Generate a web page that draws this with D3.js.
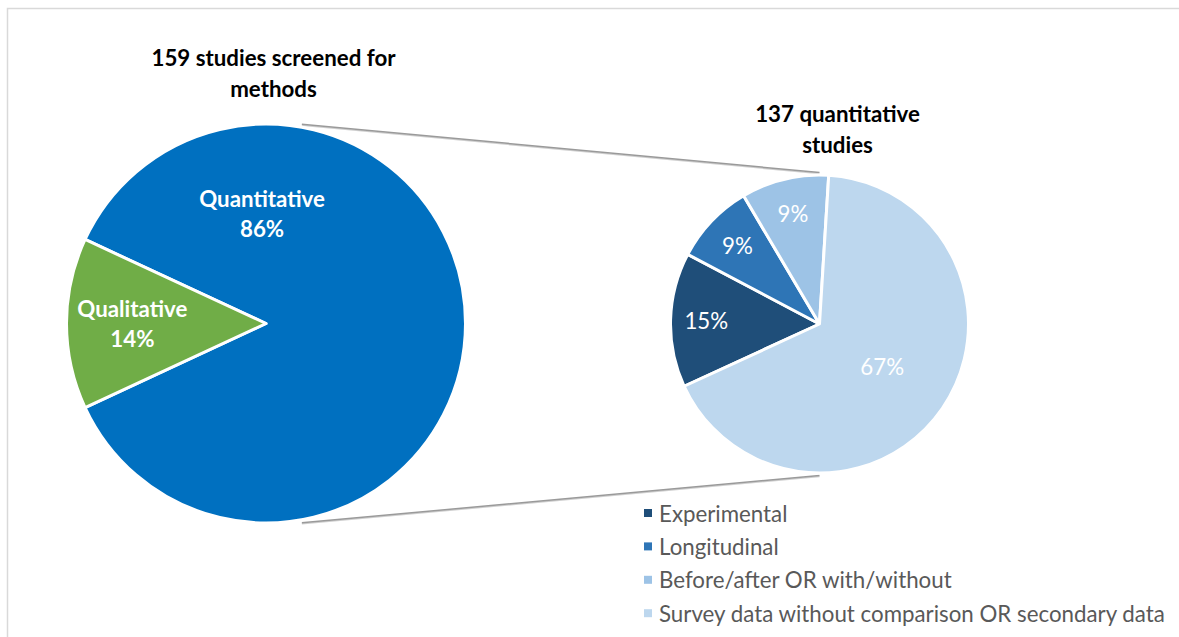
<!DOCTYPE html>
<html>
<head>
<meta charset="utf-8">
<script src="https://cdn.jsdelivr.net/npm/d3@7"></script>
<style>
  html, body { margin: 0; padding: 0; background: #fff; }
  svg { display: block; font-family: Lato, "Open Sans", sans-serif; }
</style>
</head>
<body>
<svg id="chart" width="1179" height="637"></svg>
<script>
// Study counts behind the two pies
const mainCategories = ["Quantitative", "Qualitative"];
const mainCounts = [137, 22];
const mainColors = ["#0070C0", "#70AD47"];

const subCategories = ["Experimental", "Longitudinal", "Before/after OR with/without", "Survey data without comparison OR secondary data"];
const subCounts = [20, 12, 13, 92];
const subColors = ["#1F4E79", "#2E75B6", "#9DC3E6", "#BDD7EE"];

const mainTitle = ["159 studies screened for", "methods"];
const subTitle = ["137 quantitative", "studies"];

const svg = d3.select("#chart");
const W = 1179, H = 637;
const FS = 22.3;

// light frame around the plot area
svg.append("rect")
  .attr("x", 7.5).attr("y", 8.5)
  .attr("width", W + 20).attr("height", H + 20)
  .attr("fill", "none").attr("stroke", "#D9D9D9").attr("stroke-width", 1.5);

const big = { cx: 266, cy: 323.5, r: 199.5 };
const small = { cx: 819.5, cy: 324, r: 149 };
const deg = Math.PI / 180;
const pct = (v, tot) => Math.round(v / tot * 100) + "%";

// connector lines between the two pies
const connectAngle = 10.2 * deg;
[-1, 1].forEach(s => {
  const a = s < 0 ? connectAngle : Math.PI - connectAngle;
  const x1 = big.cx + (big.r + 3) * Math.sin(a);
  const y1 = big.cy - (big.r + 3) * Math.cos(a);
  const x2 = small.cx;
  const y2 = small.cy + s * (small.r + 2.5);
  svg.append("line")
    .attr("x1", x1).attr("y1", y1 + 1).attr("x2", x2).attr("y2", y2 + 1)
    .attr("stroke", "#d0d0d0").attr("stroke-width", 1.5);
  svg.append("line")
    .attr("x1", x1).attr("y1", y1).attr("x2", x2).attr("y2", y2)
    .attr("stroke", "#9a9a9a").attr("stroke-width", 1.5);
});

// ---- main pie ----
const mainTotal = d3.sum(mainCounts);
const qualFrac = mainCounts[1] / mainTotal;
const mainPie = d3.pie().sort(null)
  .startAngle(1.5 * Math.PI + qualFrac * Math.PI)
  .endAngle(3.5 * Math.PI + qualFrac * Math.PI);
const mainArcs = mainPie(mainCounts);
const bigArc = d3.arc().innerRadius(0).outerRadius(big.r);

const gBig = svg.append("g").attr("transform", `translate(${big.cx},${big.cy})`);
gBig.selectAll("path").data(mainArcs).join("path")
  .attr("d", bigArc)
  .attr("fill", (d, i) => mainColors[i])
  .attr("stroke", "#fff").attr("stroke-width", 3).attr("stroke-linejoin", "round");

// two-line labels: name over percentage
gBig.selectAll("text.lbl").data(mainArcs).join("text")
  .attr("class", "lbl")
  .attr("text-anchor", "middle")
  .attr("fill", "#fff").attr("font-weight", 700).attr("font-size", FS)
  .attr("transform", d => {
    const wide = d.endAngle - d.startAngle > Math.PI;
    const a = wide ? -0.036 : (d.startAngle + d.endAngle) / 2;
    const rr = wide ? big.r * 0.554 : big.r * 0.67;
    return `translate(${rr * Math.sin(a)},${-rr * Math.cos(a)})`;
  })
  .each(function (d, i) {
    const t = d3.select(this);
    t.append("tspan").attr("x", 0).attr("y", -15).attr("dominant-baseline", "central").text(mainCategories[i]);
    t.append("tspan").attr("x", 0).attr("y", 15).attr("dominant-baseline", "central").text(pct(d.value, mainTotal));
  });

// ---- secondary pie ----
const subTotal = d3.sum(subCounts);
const subStart = 245.3 * deg;
const subPie = d3.pie().sort(null).startAngle(subStart).endAngle(subStart + 2 * Math.PI);
const subArcs = subPie(subCounts);
const smallArc = d3.arc().innerRadius(0).outerRadius(small.r);

const gSmall = svg.append("g").attr("transform", `translate(${small.cx},${small.cy})`);
gSmall.selectAll("path").data(subArcs).join("path")
  .attr("d", smallArc)
  .attr("fill", (d, i) => subColors[i])
  .attr("stroke", "#fff").attr("stroke-width", 3).attr("stroke-linejoin", "round");

gSmall.selectAll("text.lbl").data(subArcs).join("text")
  .attr("class", "lbl")
  .attr("text-anchor", "middle").attr("dominant-baseline", "central")
  .attr("fill", "#fff").attr("font-size", FS)
  .attr("transform", d => {
    const a = (d.startAngle + d.endAngle) / 2;
    const rr = d.endAngle - d.startAngle > Math.PI ? small.r * 0.51 : small.r * 0.76;
    return `translate(${rr * Math.sin(a)},${-rr * Math.cos(a)})`;
  })
  .text(d => pct(d.value, subTotal));

// ---- titles ----
function title(lines, x, y0) {
  const t = svg.append("text")
    .attr("text-anchor", "middle").attr("font-weight", 700).attr("font-size", FS)
    .attr("fill", "#000");
  lines.forEach((s, i) => t.append("tspan").attr("x", x).attr("y", y0 + i * 31).text(s));
}
title(mainTitle, 273.5, 66);
title(subTitle, 837.5, 122);

// ---- legend ----
const legend = svg.append("g").attr("transform", "translate(644,513)");
const rows = legend.selectAll("g").data(subCategories).join("g")
  .attr("transform", (d, i) => `translate(0,${i * 33.4})`);
rows.append("rect")
  .attr("x", 0).attr("y", -4).attr("width", 8).attr("height", 8)
  .attr("fill", (d, i) => subColors[i]);
rows.append("text")
  .attr("x", 15).attr("y", 0).attr("dominant-baseline", "central")
  .attr("font-size", FS).attr("fill", "#595959")
  .text(d => d);
</script>
</body>
</html>
